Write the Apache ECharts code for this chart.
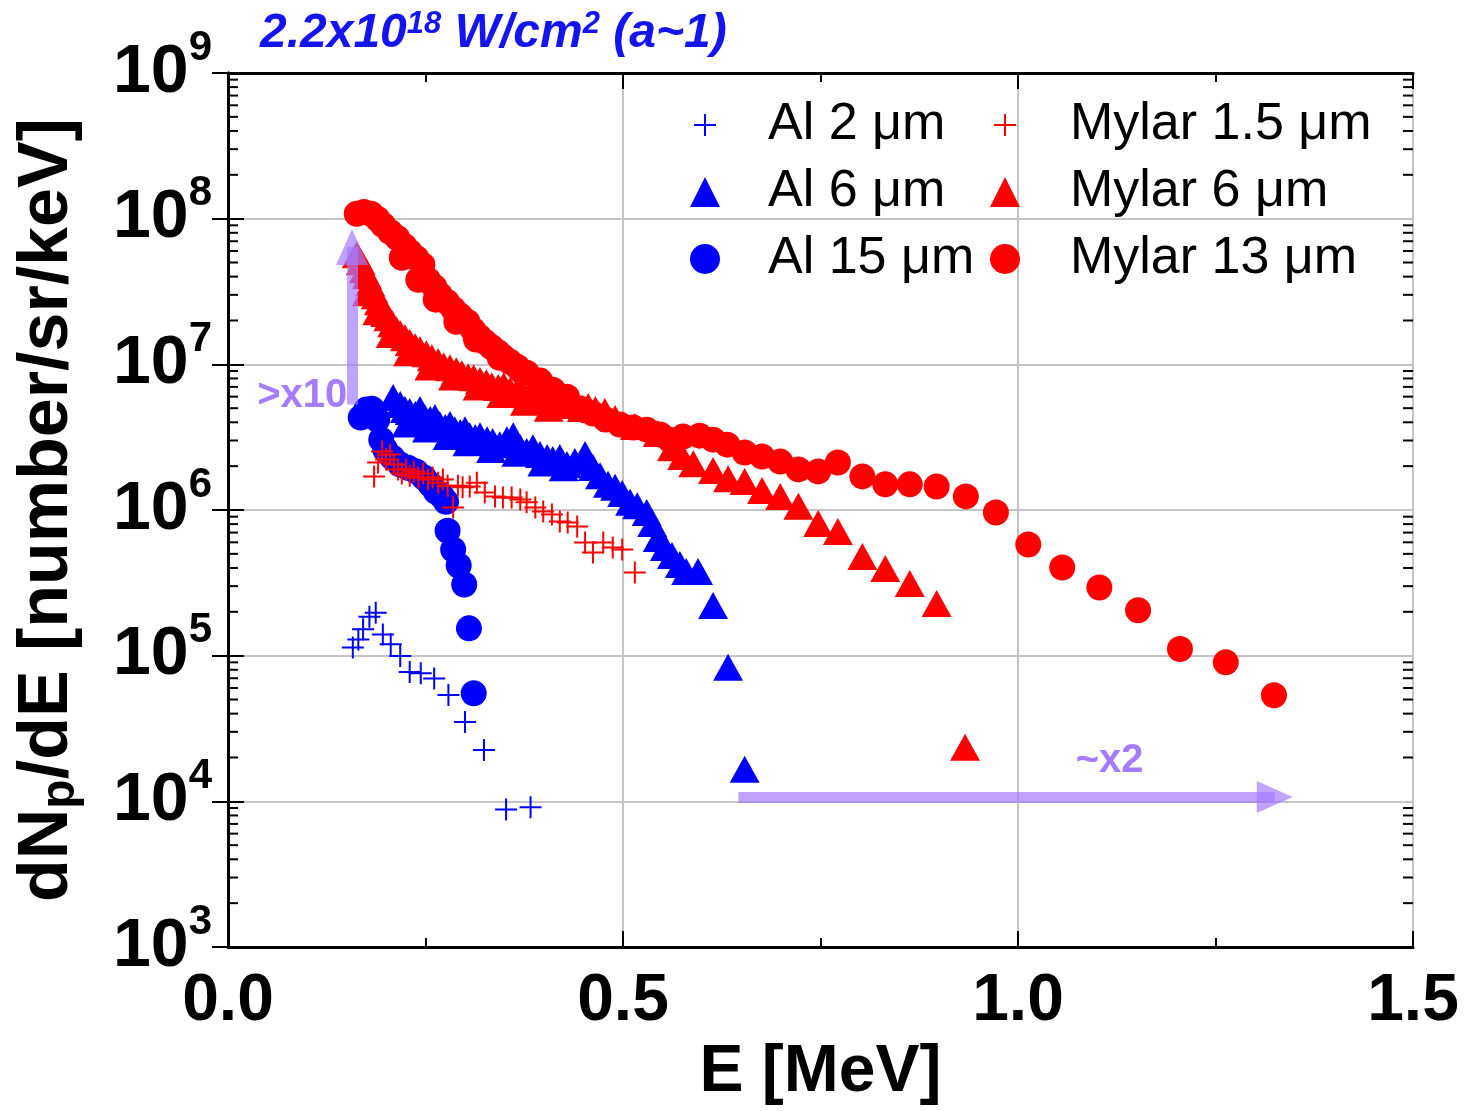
<!DOCTYPE html>
<html>
<head>
<meta charset="utf-8">
<script src="https://cdn.jsdelivr.net/npm/echarts@6/dist/echarts.min.js"></script>
<style>
  html, body { margin: 0; padding: 0; background: #fff; }
  #chart { width: 1466px; height: 1111px; }
</style>
</head>
<body>
<div id="chart"></div>
<script>
// proton spectra, E [MeV] vs dNp/dE [number/sr/keV]
const al2 = [[0.158,1.14e5],[0.165,1.29e5],[0.171,1.52e5],[0.179,1.85e5],[0.187,1.97e5],[0.196,1.40e5],[0.206,1.20e5],[0.218,9.95e4],[0.230,7.73e4],[0.244,7.57e4],[0.261,6.97e4],[0.279,5.37e4],[0.300,3.51e4],[0.324,2.25e4],[0.352,8.8e3],[0.383,9.1e3]];

const al6 = [[0.209,5.91e6],[0.218,5.29e6],[0.224,4.89e6],[0.230,4.74e6],[0.237,4.52e6],[0.243,4.89e6],[0.249,4.31e6],[0.256,4.18e6],[0.262,4.31e6],[0.268,3.86e6],[0.275,3.68e6],[0.281,3.86e6],[0.287,3.56e6],[0.294,3.40e6],[0.300,3.56e6],[0.306,3.24e6],[0.313,3.14e6],[0.319,3.24e6],[0.328,3.04e6],[0.335,2.95e6],[0.344,2.81e6],[0.353,3.04e6],[0.361,3.24e6],[0.370,2.68e6],[0.378,2.52e6],[0.386,2.68e6],[0.395,2.40e6],[0.404,2.29e6],[0.411,2.22e6],[0.420,2.29e6],[0.429,2.05e6],[0.439,2.15e6],[0.452,2.40e6],[0.462,1.96e6],[0.471,1.72e6],[0.481,1.50e6],[0.490,1.43e6],[0.499,1.30e6],[0.509,1.13e6],[0.518,1.07e6],[0.530,9.62e5],[0.537,8.08e5],[0.544,6.38e5],[0.553,5.53e5],[0.562,4.88e5],[0.572,4.23e5],[0.580,3.79e5],[0.595,3.79e5],[0.614,2.21e5],[0.633,8.32e4],[0.654,1.66e4],
	[0.226,3.90e6],[0.252,3.60e6],[0.278,3.20e6],[0.303,2.90e6],[0.333,2.60e6],[0.365,2.45e6],[0.398,2.10e6],[0.425,1.95e6]];

const al15 = [[0.168,4.31e6],[0.175,4.89e6],[0.182,4.96e6],[0.189,4.18e6],[0.194,3.04e6],[0.199,2.60e6],[0.208,2.29e6],[0.218,2.05e6],[0.228,1.95e6],[0.238,1.84e6],[0.248,1.67e6],[0.256,1.50e6],[0.263,1.34e6],[0.271,1.24e6],[0.276,1.14e6],[0.278,7.2e5],[0.285,5.36e5],[0.292,4.16e5],[0.299,3.08e5],[0.305,1.54e5],[0.311,5.52e4]];

const my15 = [[0.185,1.70e6],[0.190,2.12e6],[0.195,2.52e6],[0.200,2.22e6],[0.205,2.40e6],[0.210,2.05e6],[0.215,1.90e6],[0.220,1.78e6],[0.225,1.90e6],[0.230,1.72e6],[0.235,1.84e6],[0.241,1.67e6],[0.247,1.78e6],[0.253,1.62e6],[0.259,1.67e6],[0.266,1.54e6],[0.272,1.62e6],[0.278,1.47e6],[0.285,1.04e6],[0.291,1.47e6],[0.297,1.43e6],[0.306,1.45e6],[0.315,1.54e6],[0.325,1.32e6],[0.338,1.24e6],[0.348,1.22e6],[0.359,1.22e6],[0.370,1.18e6],[0.378,1.13e6],[0.389,1.04e6],[0.399,9.77e5],[0.410,9.31e5],[0.420,8.34e5],[0.430,8.21e5],[0.442,7.71e5],[0.452,5.98e5],[0.462,5.11e5],[0.475,5.98e5],[0.487,5.53e5],[0.499,5.36e5],[0.515,3.73e5]];

const my6 = [[0.163,5.65e7],[0.168,5.06e7],[0.172,4.46e7],[0.176,4.06e7],[0.180,3.63e7],[0.184,3.25e7],[0.187,2.96e7],[0.191,2.69e7],[0.195,2.45e7],[0.199,2.23e7],[0.203,2.09e7],[0.208,1.90e7],[0.213,1.73e7],[0.218,1.62e7],[0.224,1.52e7],[0.230,1.41e7],[0.237,1.32e7],[0.243,1.26e7],[0.251,1.18e7],[0.258,1.11e7],[0.266,1.04e7],[0.273,9.79e6],[0.281,9.48e6],[0.289,9.05e6],[0.296,8.63e6],[0.304,8.23e6],[0.311,8.10e6],[0.319,7.73e6],[0.327,7.48e6],[0.334,7.14e6],[0.342,6.92e6],[0.349,7.14e6],[0.357,6.60e6],[0.365,6.39e6],[0.372,6.49e6],[0.380,6.00e6],[0.387,5.91e6],[0.395,5.73e6],[0.403,5.91e6],[0.410,5.55e6],[0.418,5.37e6],[0.425,5.55e6],[0.433,5.21e6],[0.441,5.29e6],[0.448,4.97e6],[0.456,5.13e6],[0.465,4.89e6],[0.477,4.74e6],[0.490,4.24e6],[0.515,3.74e6],[0.544,3.35e6],[0.562,2.68e6],[0.575,2.33e6],[0.589,2.08e6],[0.614,1.87e6],[0.633,1.64e6],[0.654,1.57e6],[0.676,1.36e6],[0.699,1.24e6],[0.722,1.06e6],[0.747,8.08e5],[0.772,7.12e5],[0.803,4.80e5],[0.832,3.97e5],[0.863,3.13e5],[0.897,2.28e5],[0.933,2.35e4],
	[0.176,3.10e7],[0.189,2.30e7],[0.206,1.60e7],[0.228,1.20e7],[0.255,9.60e6],[0.285,8.20e6],[0.316,7.00e6],[0.346,6.20e6],[0.376,5.50e6],[0.406,5.00e6]];

const my13 = [[0.163,1.08e8],[0.172,1.11e8],[0.181,1.08e8],[0.189,9.98e7],[0.196,9.08e7],[0.205,8.13e7],[0.214,7.40e7],[0.223,6.52e7],[0.230,5.93e7],[0.238,5.39e7],[0.246,4.83e7],[0.253,3.81e7],[0.261,3.41e7],[0.268,3.01e7],[0.277,2.69e7],[0.285,2.41e7],[0.294,2.16e7],[0.303,1.96e7],[0.310,1.73e7],[0.318,1.55e7],[0.325,1.43e7],[0.333,1.32e7],[0.341,1.22e7],[0.348,1.13e7],[0.357,1.04e7],[0.366,9.64e6],[0.378,8.77e6],[0.395,7.73e6],[0.411,6.70e6],[0.429,6.00e6],[0.446,4.97e6],[0.462,4.59e6],[0.478,4.18e6],[0.496,3.86e6],[0.513,3.68e6],[0.530,3.56e6],[0.547,3.30e6],[0.559,3.04e6],[0.576,3.19e6],[0.597,3.24e6],[0.614,3.04e6],[0.632,2.81e6],[0.654,2.48e6],[0.676,2.33e6],[0.699,2.15e6],[0.722,1.90e6],[0.747,1.84e6],[0.772,2.12e6],[0.803,1.70e6],[0.832,1.50e6],[0.863,1.50e6],[0.897,1.45e6],[0.934,1.24e6],[0.972,9.62e5],[1.013,5.80e5],[1.056,4.03e5],[1.103,2.94e5],[1.152,2.05e5],[1.205,1.11e5],[1.263,9.00e4],[1.324,5.35e4],
	[0.220,5.39e7],[0.241,3.81e7],[0.263,2.78e7],[0.289,1.96e7],[0.314,1.48e7],[0.344,1.11e7],[0.372,8.91e6]];

// annotation arrows (start, end) and their labels
const arrowUp = [[0.157, 5.3e6], [0.157, 6.4e7]];
const arrowRight = [[0.646, 1.07e4], [1.325, 1.07e4]];
const noteUp = { text: '>x10', at: [0.094, 6.1e6] };
const noteRight = { text: '~x2', at: [1.116, 1.88e4] };

// axes
const xMin = 0, xMax = 1.5, xStep = 0.5;
const yMin = 1e3, yMax = 1e9;
const decades = [3, 4, 5, 6, 7, 8];
const minorFactors = [2, 3, 4, 5, 6, 7, 8, 9];
const minorTickValues = [];
decades.forEach(d => minorFactors.forEach(f => minorTickValues.push(f * Math.pow(10, d))));

const FONT = "'Liberation Sans', Arial, Helvetica, sans-serif";
const BLUE = '#0000ff';
const RED = '#ff0000';
const NOTE = '#a47cff';

const plus = 'path://M0,10L22,10L22,12L0,12Z M10,0L12,0L12,22L10,22Z';
// legend plus: padded with empty points so it is drawn smaller than the box
const plusIcon = 'path://M0,0L0,0M30,30L30,30M4,14L26,14L26,16L4,16Z M14,4L16,4L16,26L14,26Z';

let myChart = echarts.init(document.getElementById('chart'));

let axisLine = { lineStyle: { color: '#000', width: 3 } };

myChart.setOption({
	animation: false,
	backgroundColor: '#fff',
	title: {
		text: '{t|2.2x10}{s|18}{t| W/cm}{s|2}{t| (a~1)}',
		left: 255,
		top: 4,
		textStyle: {
			rich: {
				t: { fontFamily: FONT, fontSize: 48, fontWeight: 'bold', fontStyle: 'italic', color: '#1414ee', lineHeight: 50 },
				s: { fontFamily: FONT, fontSize: 31, fontWeight: 'bold', fontStyle: 'italic', color: '#1414ee', lineHeight: 32, verticalAlign: 'top' }
			}
		}
	},
	grid: { left: 228, right: 53, top: 73, bottom: 163, containLabel: false },
	legend: [
		{
			orient: 'vertical', left: 685, top: 94,
			itemWidth: 30, itemHeight: 30, itemGap: 15,
			selectedMode: false,
			textStyle: { fontFamily: FONT, fontSize: 52, color: '#000', lineHeight: 52, padding: [0, 0, 0, 43] },
			data: [
				{ name: 'Al 2 μm', icon: plusIcon },
				{ name: 'Al 6 μm', icon: 'triangle' },
				{ name: 'Al 15 μm', icon: 'circle' }
			]
		},
		{
			orient: 'vertical', left: 985, top: 94,
			itemWidth: 30, itemHeight: 30, itemGap: 15,
			selectedMode: false,
			textStyle: { fontFamily: FONT, fontSize: 52, color: '#000', lineHeight: 52, padding: [0, 0, 0, 45] },
			data: [
				{ name: 'Mylar 1.5 μm', icon: plusIcon },
				{ name: 'Mylar 6 μm', icon: 'triangle' },
				{ name: 'Mylar 13 μm', icon: 'circle' }
			]
		}
	],
	xAxis: [
		{
			type: 'value', min: xMin, max: xMax, interval: xStep,
			name: 'E [MeV]', nameLocation: 'middle', nameGap: 93,
			nameTextStyle: { fontFamily: FONT, fontSize: 66, fontWeight: 'bold', color: '#000' },
			axisLine: axisLine,
			axisTick: { inside: true, length: 16, lineStyle: { color: '#000', width: 2 } },
			minorTick: { show: true, splitNumber: 2, length: 9, lineStyle: { color: '#000', width: 2 } },
			axisLabel: {
				margin: 22, fontFamily: FONT, fontSize: 66, fontWeight: 'bold', color: '#000',
				formatter: v => v.toFixed(1)
			},
			splitLine: { show: true, lineStyle: { color: '#c4c4c4', width: 2 } }
		},
		{
			type: 'value', min: xMin, max: xMax, interval: xStep, position: 'top',
			axisLine: axisLine,
			axisTick: { inside: true, length: 16, lineStyle: { color: '#000', width: 2 } },
			minorTick: { show: true, splitNumber: 2, length: 9, lineStyle: { color: '#000', width: 2 } },
			axisLabel: { show: false },
			splitLine: { show: false }
		}
	],
	yAxis: [
		{
			type: 'log', logBase: 10, min: yMin, max: yMax,
			name: '{a|dN}{p|p}{a|/dE [number/sr/keV]}', nameLocation: 'middle', nameGap: 143,
			nameTextStyle: {
				rich: {
					a: { fontFamily: FONT, fontSize: 70, fontWeight: 'bold', color: '#000', lineHeight: 74 },
					p: { fontFamily: FONT, fontSize: 48, fontWeight: 'bold', color: '#000', lineHeight: 48, verticalAlign: 'bottom' }
				}
			},
			axisLine: axisLine,
			axisTick: { inside: true, length: 16, lineStyle: { color: '#000', width: 2 } },
			axisLabel: {
				margin: 16,
				formatter: v => '{b|10}{s|' + Math.round(Math.log10(v)) + '}',
				rich: {
					b: { fontFamily: FONT, fontSize: 68, fontWeight: 'bold', color: '#000', lineHeight: 92 },
					s: { fontFamily: FONT, fontSize: 42, fontWeight: 'bold', color: '#000', lineHeight: 40, verticalAlign: 'top' }
				}
			},
			splitLine: { show: true, lineStyle: { color: '#c4c4c4', width: 2 } }
		},
		{
			type: 'log', logBase: 10, min: yMin, max: yMax, position: 'right',
			axisLine: axisLine,
			axisTick: { inside: true, length: 16, lineStyle: { color: '#000', width: 2 } },
			axisLabel: { show: false },
			splitLine: { show: false }
		}
	],
	series: [
		{
			// minor log ticks on the left and right frame
			type: 'custom', silent: true, z: 4,
			data: minorTickValues.map(v => [xMin, v]),
			renderItem: (params, api) => {
				let l = api.coord([xMin, api.value(1)]);
				let r = api.coord([xMax, api.value(1)]);
				return {
					type: 'group',
					children: [
						{ type: 'line', shape: { x1: l[0], y1: l[1], x2: l[0] + 10, y2: l[1] }, style: { stroke: '#000', lineWidth: 2 } },
						{ type: 'line', shape: { x1: r[0], y1: r[1], x2: r[0] - 10, y2: r[1] }, style: { stroke: '#000', lineWidth: 2 } }
					]
				};
			}
		},
		{ name: 'Al 2 μm', type: 'scatter', data: al2, symbol: plus, symbolSize: 22, itemStyle: { color: BLUE, opacity: 1 } },
		{ name: 'Al 6 μm', type: 'scatter', data: al6, symbol: 'triangle', symbolSize: [30, 27], itemStyle: { color: BLUE, opacity: 1 } },
		{ name: 'Al 15 μm', type: 'scatter', data: al15, symbol: 'circle', symbolSize: 26, itemStyle: { color: BLUE, opacity: 1 } },
		{ name: 'Mylar 13 μm', type: 'scatter', data: my13, symbol: 'circle', symbolSize: 26, itemStyle: { color: RED, opacity: 1 } },
		{ name: 'Mylar 6 μm', type: 'scatter', data: my6, symbol: 'triangle', symbolSize: [30, 27], itemStyle: { color: RED, opacity: 1 } },
		{ name: 'Mylar 1.5 μm', type: 'scatter', data: my15, symbol: plus, symbolSize: 22, itemStyle: { color: RED, opacity: 1 } },
		{
			// the ">x10" and "~x2" arrows
			type: 'scatter', data: [], silent: true, z: 6,
			markLine: {
				silent: true,
				symbol: ['none', 'triangle'],
				symbolSize: [32, 36],
				label: { show: false },
				lineStyle: { type: 'solid', color: NOTE, width: 11, opacity: 0.7 },
				itemStyle: { color: NOTE, opacity: 0.7 },
				data: [
					[{ coord: arrowUp[0] }, { coord: arrowUp[1] }],
					[{ coord: arrowRight[0] }, { coord: arrowRight[1] }]
				]
			},
			markPoint: {
				silent: true,
				symbol: 'circle', symbolSize: 0,
				label: { show: true, position: 'inside', fontFamily: FONT, fontSize: 40, fontWeight: 'bold', color: NOTE },
				data: [
					{ coord: noteUp.at, value: noteUp.text, label: { formatter: noteUp.text } },
					{ coord: noteRight.at, value: noteRight.text, label: { formatter: noteRight.text } }
				]
			}
		}
	]
});
</script>
</body>
</html>
